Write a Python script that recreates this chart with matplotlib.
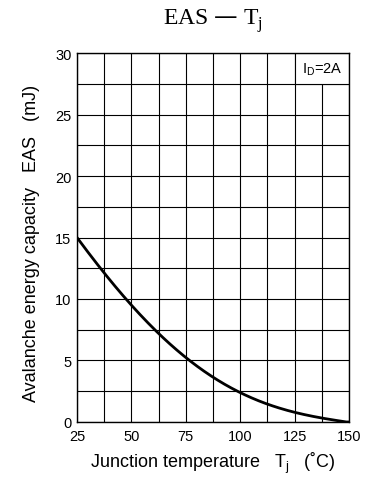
import numpy as np
import matplotlib
matplotlib.use("Agg")
import matplotlib.pyplot as plt
from matplotlib.patches import Rectangle

# EAS vs Tj curve
tj = [25, 37.5, 50, 62.5, 75, 87.5, 100, 112.5, 125, 137.5, 150]
eas = [15.0, 12.1, 9.5, 7.3, 5.15, 3.6, 2.4, 1.55, 0.78, 0.25, 0.0]
x_ticks = [25, 50, 75, 100, 125, 150]
y_ticks = [0, 5, 10, 15, 20, 25, 30]

plt.rcParams["font.family"] = ["Liberation Sans", "DejaVu Sans"]

fig = plt.figure(figsize=(3.76, 4.81), dpi=100)
ax = fig.add_axes([0.2048, 0.1206, 0.7234, 0.7671])

# smooth the read points a bit
xs = np.linspace(25, 150, 200)
coef = np.polyfit(tj, eas, 4)
ys = np.clip(np.polyval(coef, xs), 0, None)
ax.plot(xs, ys, color="black", lw=2.0, zorder=3, solid_capstyle="round")

ax.set_xlim(25, 150)
ax.set_ylim(0, 30)
ax.set_xticks(x_ticks)
ax.set_yticks(y_ticks)
ax.set_xticks(np.arange(25, 151, 12.5), minor=True)
ax.set_yticks(np.arange(0, 30.1, 2.5), minor=True)
ax.grid(True, which="both", color="black", lw=0.8)
ax.tick_params(which="both", length=0, labelsize=10.5, pad=4)
ax.tick_params(axis="x", pad=5)
for s in ax.spines.values():
    s.set_linewidth(1.0)

# condition box in the top right cell
ax.add_patch(Rectangle((125, 27.5), 25, 2.5, facecolor="white", edgecolor="black",
                       lw=0.8, zorder=2))
ax.text(137.5, 28.75, "I$_\\mathregular{D}$=2A", ha="center", va="center", fontsize=10.5, zorder=4)

ax.set_xlabel("Junction temperature   T$_\\mathregular{j}$   (˚C)", fontsize=13, labelpad=5)
ax.set_ylabel("Avalanche energy capacity   EAS   (mJ)", fontsize=13, labelpad=8)
ax.yaxis.set_label_coords(-0.135, 0.487)
fig.text(0.566, 0.955, "EAS — T$_\\mathregular{j}$", ha="center", va="center",
         fontsize=17, family="Liberation Serif")

fig.savefig("out.png", dpi=100)
